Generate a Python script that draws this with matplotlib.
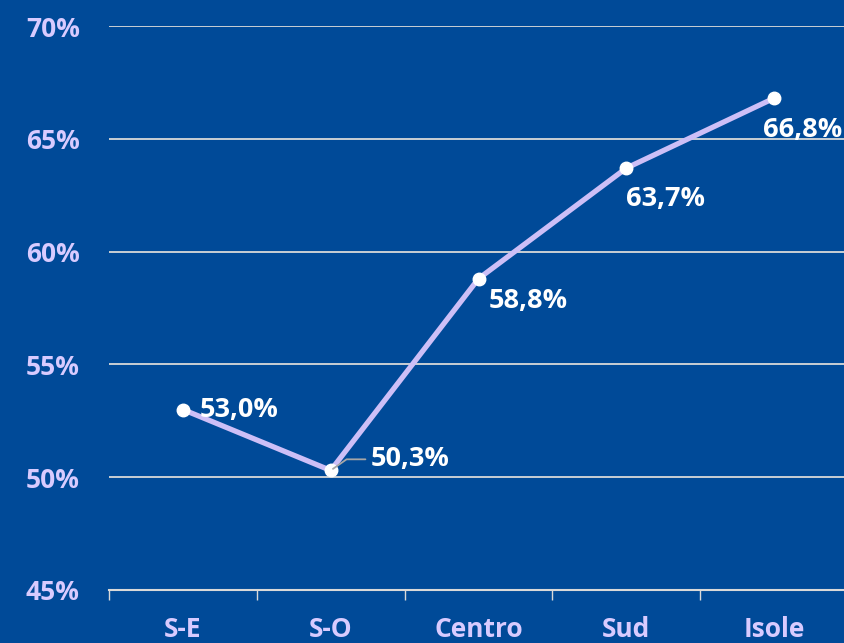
import matplotlib
matplotlib.use("Agg")
import matplotlib.pyplot as plt

categories = ["S-E", "S-O", "Centro", "Sud", "Isole"]
values = [53.0, 50.3, 58.8, 63.7, 66.8]
labels = ["53,0%", "50,3%", "58,8%", "63,7%", "66,8%"]
yticks = [45, 50, 55, 60, 65, 70]
ytick_labels = ["45%", "50%", "55%", "60%", "65%", "70%"]

BG = "#004A98"
LINE = "#CDBFF7"
TICKC = "#D8CBFF"
GRID = "#D9D9D9"

plt.rcParams['font.family'] = ['Open Sans', 'DejaVu Sans']

fig = plt.figure(figsize=(8.44, 6.43), dpi=100, facecolor=BG)
ax = fig.add_axes([109/844, 1-590/643, (848-109)/844, (590-26)/643])
ax.set_facecolor(BG)

x = list(range(len(categories)))
ax.plot(x, values, color=LINE, lw=3.8, zorder=3, solid_capstyle='round')
ax.plot(x, values, 'o', color='white', ms=9, zorder=4)

ax.set_xlim(-0.5, len(categories) - 0.5)
ax.set_ylim(45, 70)
ax.set_yticks(yticks)
ax.set_yticklabels(ytick_labels)
ax.set_xticks(x)
ax.set_xticklabels(categories)
ax.set_xticks([i - 0.5 for i in range(len(categories) + 1)], minor=True)
ax.tick_params(axis='x', which='major', length=0, pad=19, labelsize=19, labelcolor=TICKC)
ax.tick_params(axis='x', which='minor', length=7, width=1, color=GRID, direction='out')
ax.tick_params(axis='y', length=0, pad=21, labelsize=19, labelcolor=TICKC)
for lab in ax.get_xticklabels() + ax.get_yticklabels():
    lab.set_fontweight('bold')

for v in yticks[1:]:
    ax.axhline(v, color=GRID, lw=1.3, zorder=1)
for s in ['top', 'right', 'left']:
    ax.spines[s].set_visible(False)
ax.spines['bottom'].set_color(GRID)
ax.spines['bottom'].set_linewidth(1.5)

offsets = [(12, 0, 'left', 'center'), (29, 8, 'left', 'center'), (7, -16, 'left', 'center'),
           (0, -22, 'left', 'center'), (-8, -23, 'left', 'center')]
for i, (v, lab, off) in enumerate(zip(values, labels, offsets)):
    if i == 1:
        ax.annotate(lab, (i, v), xytext=off[:2], textcoords='offset points',
                    ha=off[2], va=off[3], color='white', fontsize=19.5, fontweight='bold',
                    arrowprops=dict(arrowstyle='-', color='#A6A6A6', lw=1.3,
                                    connectionstyle='angle,angleA=0,angleB=35,rad=0',
                                    shrinkA=2, shrinkB=2), zorder=5)
    else:
        ax.annotate(lab, (i, v), xytext=off[:2], textcoords='offset points',
                    ha=off[2], va=off[3], color='white', fontsize=19.5, fontweight='bold', zorder=5)

fig.savefig("out.png", dpi=100, facecolor=BG)
